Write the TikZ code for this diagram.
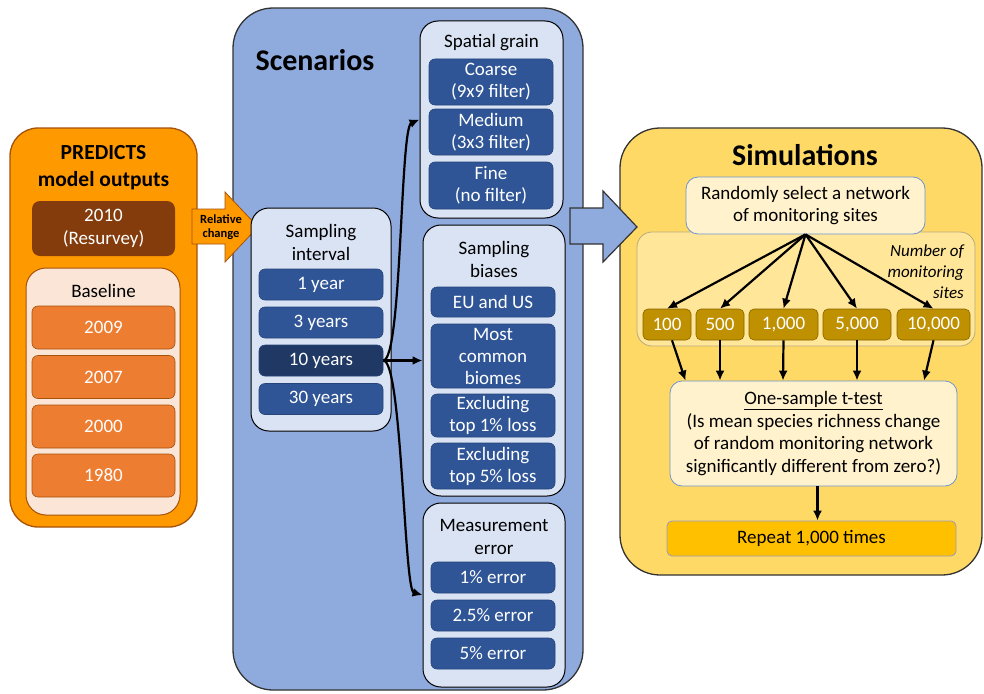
\documentclass[tikz,border=0pt]{standalone}
\usepackage{fontspec}
\setmainfont{Carlito}
\usepackage{tikz}
\usetikzlibrary{arrows.meta}

\definecolor{predorange}{HTML}{FF9900}
\definecolor{predline}{HTML}{A5520A}
\definecolor{resbrown}{HTML}{843C0C}
\definecolor{basepeach}{HTML}{FBE5D6}
\definecolor{yearorange}{HTML}{ED7D31}
\definecolor{scenblue}{HTML}{8FAADC}
\definecolor{grpblue}{HTML}{DAE3F3}
\definecolor{itemblue}{HTML}{2F5597}
\definecolor{itemdark}{HTML}{1F3864}
\definecolor{simyellow}{HTML}{FFD966}
\definecolor{cream}{HTML}{FFF2CC}
\definecolor{creamline}{HTML}{6F93CF}
\definecolor{sitesbg}{HTML}{FFE699}
\definecolor{sitesline}{HTML}{B8AA80}
\definecolor{gold}{HTML}{BF9000}
\definecolor{repeatorange}{HTML}{FFC000}

\begin{document}
\begin{tikzpicture}[x=1pt,y=-1pt,
    panel/.style={draw=black!80, line width=1.3pt, rounded corners=40pt, inner sep=0pt},
    group/.style={draw=black, fill=grpblue, line width=1pt, rounded corners=18pt, inner sep=0pt},
    item/.style={draw=itemblue!80!black, fill=itemblue, line width=.6pt, rounded corners=6pt,
      text=white, align=center, inner sep=0pt, minimum width=124, font=\fontsize{19}{22}\selectfont},
    yearbox/.style={draw=predline, fill=yearorange, line width=.6pt, rounded corners=6pt,
      text=white, inner sep=0pt, minimum width=143, minimum height=43, font=\fontsize{19}{22}\selectfont},
    sitebox/.style={draw=gold!70!black, fill=gold, line width=.6pt, rounded corners=5pt,
      text=white, inner sep=0pt, minimum height=31, font=\fontsize{19}{22}\selectfont},
    creambox/.style={draw=creamline, fill=cream, line width=.8pt, rounded corners=12pt,
      align=center, inner sep=0pt, font=\fontsize{19}{22.5}\selectfont},
    label/.style={align=center, inner sep=0pt, font=\fontsize{19}{23}\selectfont},
    title/.style={inner sep=0pt, font=\fontsize{30}{34}\selectfont\bfseries},
    link/.style={line width=2.2pt, -{Latex[length=10pt,width=9pt]}}]
  \useasboundingbox (0,0) rectangle (984,693);

  \node (predicts) at (103.5,327.5) [panel, draw=predline, fill=predorange, rounded corners=28pt, minimum width=187, minimum height=399] {};
  \node (predtitle) at (103.5,168) [align=center, inner sep=0pt, font=\fontsize{21.5}{27}\selectfont\bfseries] {PREDICTS\\model outputs};
  \node (resurvey) at (103.5,228.5) [fill=resbrown, rounded corners=8pt, text=white, align=center, inner sep=0pt,
    minimum width=143, minimum height=55, font=\fontsize{19}{23}\selectfont] {2010\\(Resurvey)};
  \node (baseline) at (103,391.5) [draw=predline, fill=basepeach, line width=1pt, rounded corners=20pt, minimum width=154, minimum height=247] {};
  \node (basetitle) at (103.5,291) [label] {Baseline};
  \foreach \yr/\y in {2009/327.5,2007/377,2000/426.5,1980/475.5}
    \node (y\yr) at (103.5,\y) [yearbox] {\yr};

  \node (scenarios) at (408,349) [panel, fill=scenblue, minimum width=350, minimum height=682] {};
  \node (scentitle) at (315,60) [title] {Scenarios};

  \draw[draw=predline, fill=predorange, line width=.8pt] (192,209) -- (225,209) -- (225,192) -- (258,227)
    -- (225,262) -- (225,244) -- (192,244) -- cycle;
  \node (relchange) at (221,227) [align=center, inner sep=0pt, font=\fontsize{12.5}{14}\selectfont\bfseries] {Relative\\change};

  \node (interval) at (321,319.5) [group, minimum width=140, minimum height=223] {};
  \node (inttitle) at (321,242.5) [label] {Sampling\\interval};
  \node (yr1) at (321,284.5) [item, minimum height=31] {1 year};
  \node (yr3) at (321,322.5) [item, minimum height=31] {3 years};
  \node (yr10) at (321,360.5) [item, minimum height=31, fill=itemdark] {10 years};
  \node (yr30) at (321,399) [item, minimum height=31] {30 years};

  \node (grain) at (491.5,119.5) [group, minimum width=143, minimum height=197] {};
  \node (graintitle) at (491.5,43) [label] {Spatial grain};
  \node (coarse) at (491,82) [item, minimum height=46] {Coarse\\(9x9 filter)};
  \node (medium) at (491,132) [item, minimum height=46] {Medium\\(3x3 filter)};
  \node (fine) at (491,185.5) [item, minimum height=47] {Fine\\(no filter)};

  \node (biases) at (494,360.5) [group, minimum width=142, minimum height=271] {};
  \node (biastitle) at (494,259.5) [label] {Sampling\\biases};
  \node (euus) at (493,302) [item, minimum height=30] {EU and US};
  \node (biomes) at (493,356) [item, minimum height=64] {Most\\common\\biomes};
  \node (excl1) at (493,415.5) [item, minimum height=43] {Excluding\\top 1\% loss};
  \node (excl5) at (493,466) [item, minimum height=46] {Excluding\\top 5\% loss};

  \node (meas) at (494,595) [group, minimum width=142, minimum height=184] {};
  \node (meastitle) at (494,536.5) [label] {Measurement\\error};
  \node (err1) at (493,577.5) [item, minimum height=31] {1\% error};
  \node (err25) at (493,615.5) [item, minimum height=31] {2.5\% error};
  \node (err5) at (493,653.5) [item, minimum height=31] {5\% error};

  \draw[link] (yr10.east) .. controls (402,360) and (400,128) .. (grain.west);
  \draw[link] (yr10.east) -- (biases.west);
  \draw[link] (yr10.east) .. controls (402,360) and (404,590) .. (meas.west);

  \node (simulations) at (801,351.5) [panel, fill=simyellow, minimum width=362, minimum height=447] {};
  \node (simtitle) at (805,155) [title] {Simulations};

  \draw[draw=black!80, fill=scenblue, line width=1.2pt] (570,208) -- (603,208) -- (603,191) -- (637,227)
    -- (603,262) -- (603,244) -- (570,244) -- cycle;

  \node (sites) at (806,289) [draw=sitesline, fill=sitesbg, line width=.8pt, rounded corners=15pt, minimum width=338, minimum height=114] {};
  \node (sitestitle) at (964,272) [anchor=east, align=right, inner sep=0pt, font=\fontsize{17}{21}\selectfont\itshape] {Number of\\monitoring\\sites};
  \node (select) at (805.5,205.5) [creambox, minimum width=239, minimum height=57] {Randomly select a network\\of monitoring sites};
  \node (s100) at (667,324.5) [sitebox, minimum width=48] {100};
  \node (s500) at (720,324.5) [sitebox, minimum width=48] {500};
  \node (s1000) at (783.5,324.5) [sitebox, minimum width=69] {1,000};
  \node (s5000) at (857,324.5) [sitebox, minimum width=68] {5,000};
  \node (s10000) at (933.5,324.5) [sitebox, minimum width=73] {10,000};
  \node (ttest) at (813.5,433.5) [creambox, minimum width=287, minimum height=105] {\underline{One-sample t-test}\\(Is mean species richness change\\of random monitoring network\\significantly different from zero?)};
  \node (repeat) at (811.5,538.5) [draw=black!60!blue!40, fill=repeatorange, line width=.8pt, rounded corners=5pt, inner sep=0pt,
    minimum width=289, minimum height=35, font=\fontsize{19}{22}\selectfont] {Repeat 1,000 times};

  \foreach \s in {s100,s500,s1000,s5000,s10000}
    \draw[link] (select.south) -- (\s.north);
  \draw[link] ([xshift=5]s100.south) -- ([xshift=-128]ttest.north);
  \draw[link] (s500.south) -- ([xshift=-93.5]ttest.north);
  \draw[link] (s1000.south) -- ([xshift=-30.5]ttest.north);
  \draw[link] (s5000.south) -- ([xshift=43.5]ttest.north);
  \draw[link] (s10000.south) -- ([xshift=110.5]ttest.north);
  \draw[link] ([xshift=4]ttest.south) -- ([xshift=6]repeat.north);
\end{tikzpicture}
\end{document}
